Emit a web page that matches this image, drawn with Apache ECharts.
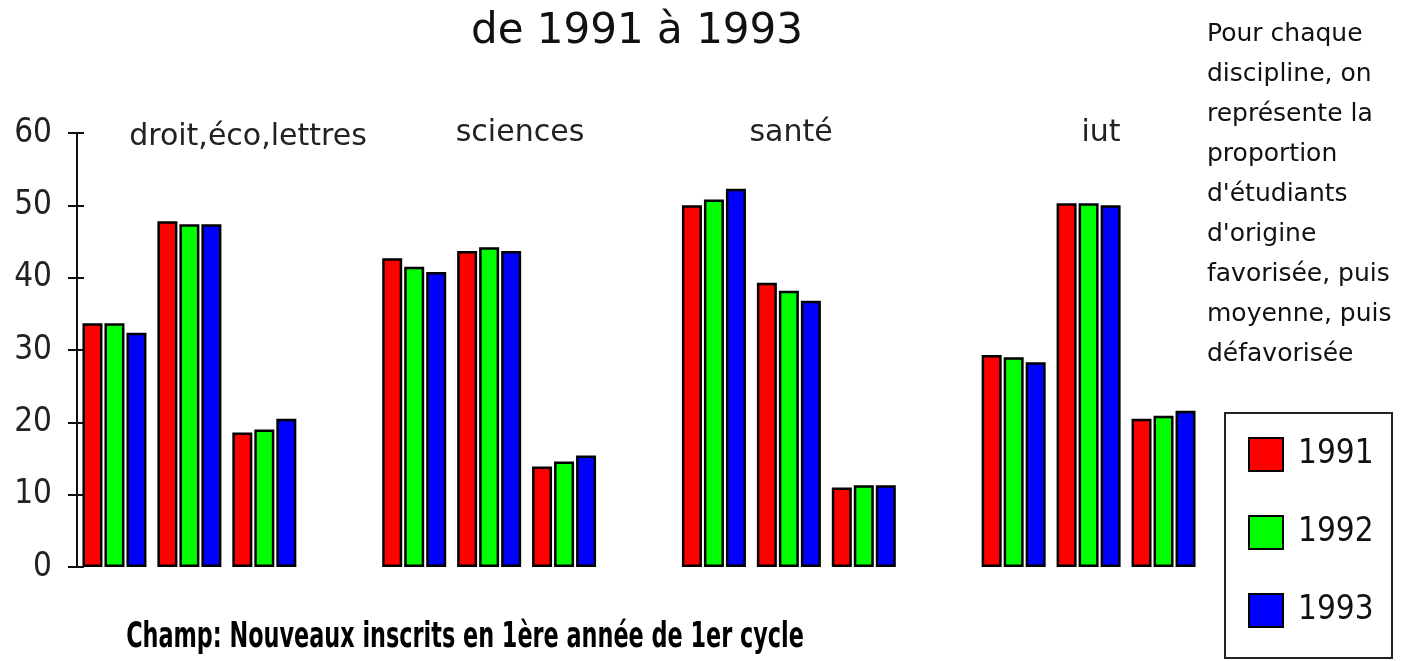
<!DOCTYPE html>
<html>
<head>
<meta charset="utf-8">
<script src="https://cdn.jsdelivr.net/npm/echarts@6/dist/echarts.min.js"></script>
<style>
  html, body { margin: 0; padding: 0; background: #fff; }
  #chart { width: 1401px; height: 661px; }
</style>
</head>
<body>
<div id="chart"></div>
<script>
// disciplines, then within each: origine favorisée / moyenne / défavorisée
const disciplines = ['droit,éco,lettres', 'sciences', 'santé', 'iut']
const origines = ['favorisée', 'moyenne', 'défavorisée']
const years = ['1991', '1992', '1993']
const v1991 = [33.7, 47.8, 18.6, 42.7, 43.7, 13.9, 50.0, 39.3, 11.0, 29.3, 50.3, 20.5]
const v1992 = [33.7, 47.4, 19.0, 41.5, 44.2, 14.6, 50.8, 38.2, 11.3, 29.0, 50.3, 20.9]
const v1993 = [32.4, 47.4, 20.5, 40.8, 43.7, 15.4, 52.3, 36.8, 11.3, 28.3, 50.0, 21.6]
const yTicks = [0, 10, 20, 30, 40, 50, 60]

const colors = ['#ff0000', '#00ff00', '#0000ff']
const narrow = '"DejaVu Sans Condensed", "Liberation Sans Narrow", Arial, sans-serif'

// category axis: 3 origins per discipline, one empty slot between disciplines
const categories = []
disciplines.forEach((d, i) => {
  origines.forEach(o => categories.push(d + ' - ' + o))
  if (i < disciplines.length - 1) categories.push('sep' + i)
})
function spread (vals) {
  const out = []
  disciplines.forEach((d, i) => {
    for (let k = 0; k < origines.length; k++) out.push(vals[i * origines.length + k])
    if (i < disciplines.length - 1) out.push(null)
  })
  return out
}

const chart = echarts.init(document.getElementById('chart'), null, { renderer: 'canvas' })

const axisBase = {
  type: 'value',
  min: yTicks[0],
  max: yTicks[yTicks.length - 1],
  interval: 10,
  position: 'left',
  splitLine: { show: false },
  axisLine: { show: true, lineStyle: { color: '#111', width: 2 } }
}
const labelFont = '30px "DejaVu Sans", sans-serif'

chart.setOption({
  animation: false,
  backgroundColor: '#fff',
  grid: { left: 77, right: 200, top: 133, bottom: 94, containLabel: false },
  legend: {
    data: years,
    orient: 'vertical',
    left: 1248,
    top: 437,
    icon: 'rect',
    itemWidth: 34,
    itemHeight: 33,
    itemGap: 43,
    padding: 0,
    textStyle: {
      fontFamily: narrow,
      fontSize: 33,
      color: '#111',
      lineHeight: 33,
      padding: [0, 0, 0, 10]
    }
  },
  xAxis: {
    type: 'category',
    data: categories,
    axisLine: { show: false },
    axisTick: { show: false },
    axisLabel: { show: false }
  },
  yAxis: [
    Object.assign({}, axisBase, {
      axisTick: { show: true, length: 9, lineStyle: { color: '#111', width: 2 } },
      axisLabel: { margin: 25, fontFamily: narrow, fontSize: 33, color: '#222' }
    }),
    Object.assign({}, axisBase, {
      axisTick: { show: true, inside: true, length: 7, lineStyle: { color: '#111', width: 2 } },
      axisLabel: { show: false }
    })
  ],
  series: [v1991, v1992, v1993].map((vals, i) => ({
    name: years[i],
    type: 'bar',
    data: spread(vals),
    barWidth: 20,
    barGap: '10%',
    itemStyle: { color: colors[i], borderColor: '#000', borderWidth: 2.5 }
  })),
  graphic: [
    {
      type: 'text',
      style: { text: 'de 1991 à 1993', x: 637, y: 32, textAlign: 'center', textVerticalAlign: 'middle', font: '42px "DejaVu Sans", sans-serif', fill: '#111' }
    },
    { type: 'text', style: { text: disciplines[0], x: 248, y: 137, textAlign: 'center', textVerticalAlign: 'middle', font: labelFont, fill: '#222' } },
    { type: 'text', style: { text: disciplines[1], x: 520, y: 133, textAlign: 'center', textVerticalAlign: 'middle', font: labelFont, fill: '#222' } },
    { type: 'text', style: { text: disciplines[2], x: 791, y: 133, textAlign: 'center', textVerticalAlign: 'middle', font: labelFont, fill: '#222' } },
    { type: 'text', style: { text: disciplines[3], x: 1101, y: 133, textAlign: 'center', textVerticalAlign: 'middle', font: labelFont, fill: '#222' } },
    {
      type: 'text',
      style: {
        text: 'Pour chaque\ndiscipline, on\nreprésente la\nproportion\nd\'étudiants\nd\'origine\nfavorisée, puis\nmoyenne, puis\ndéfavorisée',
        x: 1207, y: 14, textAlign: 'left', textVerticalAlign: 'top',
        font: '25px "DejaVu Sans", sans-serif', lineHeight: 40, fill: '#111'
      }
    },
    {
      // condensed look of the original caption
      type: 'text',
      x: 465,
      y: 638,
      scaleX: 0.69,
      style: { text: 'Champ: Nouveaux inscrits en 1ère année de 1er cycle', x: 0, y: 0, textAlign: 'center', textVerticalAlign: 'middle', font: 'bold 36px ' + narrow, fill: '#000' }
    },
    {
      // legend frame
      type: 'rect',
      shape: { x: 1225, y: 413, width: 167, height: 245 },
      style: { fill: null, stroke: '#222', lineWidth: 2 }
    }
  ]
})
</script>
</body>
</html>
